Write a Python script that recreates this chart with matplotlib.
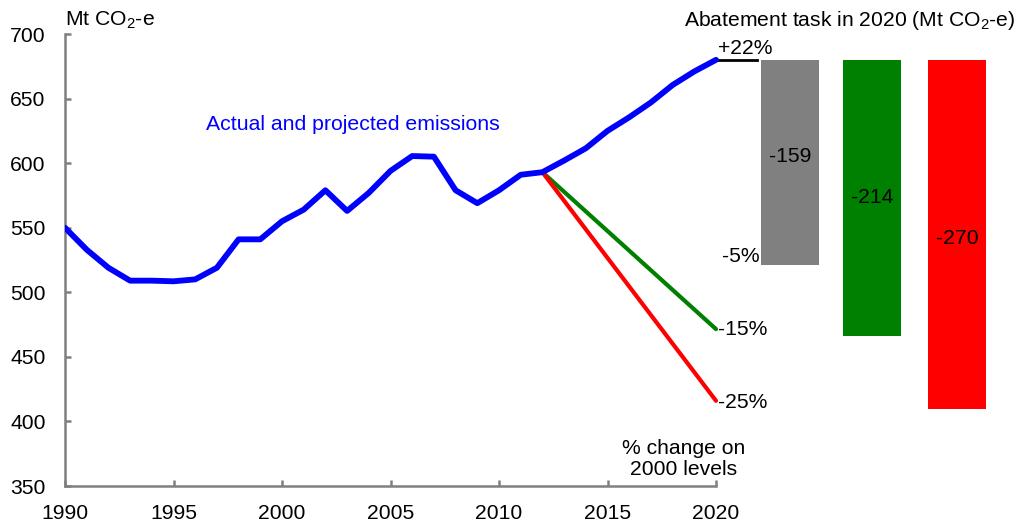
import matplotlib.pyplot as plt
import numpy as np

plt.rcParams['font.family'] = ['Liberation Sans', 'DejaVu Sans']
plt.rcParams['mathtext.fontset'] = 'custom'
plt.rcParams['mathtext.rm'] = 'Liberation Sans'
plt.rcParams['mathtext.it'] = 'Liberation Sans'

years = np.arange(1990, 2021)
emissions = [550, 533, 519, 509, 509, 508.5, 510, 519, 541, 541,
             555, 564, 579, 563, 577, 594, 605.5, 605, 579, 569,
             579, 591, 593, 602, 611.5, 625, 635.5, 647, 660.5, 671, 680]

# target trajectories from 2012 to 2020
target_years = [2012, 2020]
target_15 = [593, 471.5]
target_25 = [593, 416]

# abatement bars (top at 2020 projection)
bar_x = [2023.4, 2027.2, 2031.1]
bar_vals = [-159, -214, -270]
bar_labels = ['-159', '-214', '-270']
bar_colors = ['#808080', '#008000', '#ff0000']
bar_top = 680

fig = plt.figure(figsize=(10.23, 5.27), dpi=100)
ax = fig.add_axes([65 / 1023, 41 / 527, 44 * 21.7 / 1023, 452 / 527])

ax.plot(years, emissions, color='#0000ff', lw=4.2, solid_capstyle='round', zorder=3)
ax.plot(target_years, target_15, color='#008000', lw=3, solid_capstyle='round', zorder=2)
ax.plot(target_years, target_25, color='#ff0000', lw=3, solid_capstyle='round', zorder=2)
ax.plot([2020, 2021.9], [bar_top, bar_top], color='black', lw=2)

label_shift = [0.473, 0.499, 0.513]  # where excel put the value labels
for x, v, lab, c, f in zip(bar_x, bar_vals, bar_labels, bar_colors, label_shift):
    ax.bar(x, v, bottom=bar_top, width=2.67, color=c)
    ax.text(x, bar_top + v * f, lab, ha='center', va='center', fontsize=15.2)

ax.text(2020.1, 689, '+22%', ha='left', va='center', fontsize=15.2)
ax.text(2022.0, 527.5, '-5%', ha='right', va='center', fontsize=15.2)
ax.text(2020.1, 471, '-15%', ha='left', va='center', fontsize=15.2)
ax.text(2020.1, 415, '-25%', ha='left', va='center', fontsize=15.2)
ax.text(2018.5, 371, '% change on\n2000 levels', ha='center', va='center',
        fontsize=15.2, linespacing=1.12)
ax.text(1996.5, 630, 'Actual and projected emissions', color='#0000ff',
        ha='left', va='center', fontsize=15.3)
ax.text(1990, 710.5, 'Mt CO$_2$-e', ha='left', va='center', fontsize=15.2)
ax.text(2033.8, 710.5, 'Abatement task in 2020 (Mt CO$_2$-e)', ha='right',
        va='center', fontsize=15.2)

ax.set_xlim(1990, 2034)
ax.set_ylim(350, 700)
ax.set_xticks(range(1990, 2021, 5))
ax.set_yticks(range(350, 701, 50))
for s in ['top', 'right']:
    ax.spines[s].set_visible(False)
for s in ['left', 'bottom']:
    ax.spines[s].set_color('#808080')
    ax.spines[s].set_linewidth(1.8)
ax.spines['bottom'].set_bounds(1990, 2020)
ax.tick_params(direction='in', length=4, width=1.8, color='#808080',
               labelsize=15.2)
ax.tick_params(axis='x', pad=13)
ax.tick_params(axis='y', pad=14)

fig.savefig('out.png', dpi=100)
